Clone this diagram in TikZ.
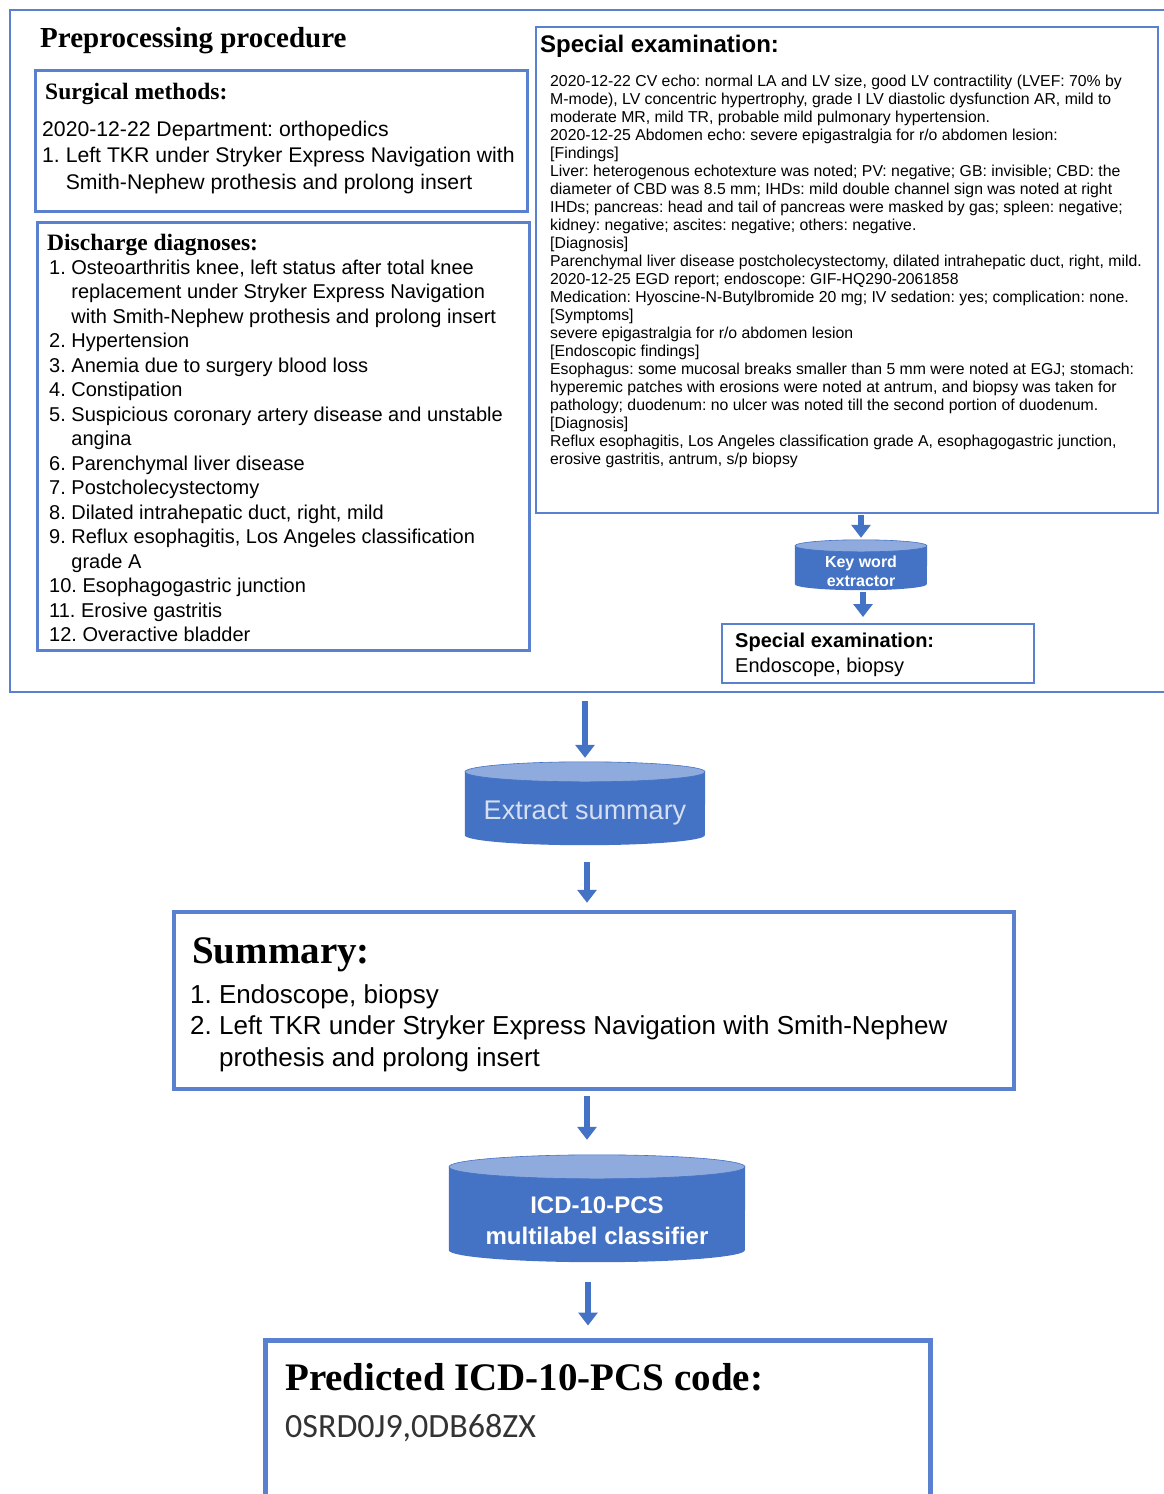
\documentclass[tikz,border=0pt]{standalone}
\usepackage{fontspec}
\setmainfont{Liberation Sans}
\newfontfamily\headfont{Liberation Serif}
\newfontfamily\codefont{Carlito}
\usetikzlibrary{arrows.meta,backgrounds}
\definecolor{frameblue}{HTML}{5A80D0}
\definecolor{cylblue}{HTML}{4472C4}
\definecolor{cyltop}{HTML}{8FAADC}
\definecolor{softtext}{HTML}{D6DFF2}

\tikzset{
    box/.style = {draw = frameblue, rectangle, inner sep = 0pt},
    cylface/.style = {rectangle, inner sep = 0pt, align = center},
    cylbody/.style = {fill = cylblue},
    cylend/.style = {fill = cyltop, draw = cylblue, line width = 0.6pt},
    flow/.style = {-{Triangle[length = 13pt, width = 19pt]}, line width = 6pt, draw = cylblue},
    txt/.style = {inner sep = 0pt, anchor = base west, align = left}
}

\begin{document}
\frenchspacing
\begin{tikzpicture}[x = 1pt, y = 1pt]
        \useasboundingbox (0, 0) rectangle (1164, -1494);

        % Frames
        \node [box, line width = 2.5pt, minimum width = 1160pt, minimum height = 682pt] (outer) at (590, -351) {};
        \node [box, line width = 3pt, minimum width = 492pt, minimum height = 141pt] (surg) at (281, -140.5) {};
        \node [box, line width = 3pt, minimum width = 492pt, minimum height = 428pt] (diag) at (283, -436) {};
        \node [box, line width = 2.5pt, minimum width = 622pt, minimum height = 486pt] (spec) at (847, -270) {};
        \node [box, line width = 2pt, minimum width = 312pt, minimum height = 59pt] (found) at (878, -653.5) {};
        \node [box, line width = 4.5pt, minimum width = 840pt, minimum height = 177pt] (summ) at (594, -1000.5) {};
        \node [box, line width = 5pt, minimum width = 665pt, minimum height = 200pt] (pred) at (597.5, -1440) {};

        % Cylinders (node = front face)
        \node [cylface, minimum width = 132pt, minimum height = 38pt, text = white, font = \bfseries\fontsize{16}{19}\selectfont] (keyword) at (861, -571) {Key word\\extractor};
        \node [cylface, minimum width = 240pt, minimum height = 63pt, text = softtext, font = \fontsize{27}{32}\selectfont] (extract) at (585, -813.5) {Extract summary};
        \node [cylface, minimum width = 296pt, minimum height = 83pt, text = white, font = \bfseries\fontsize{24}{31}\selectfont] (icd) at (597, -1220.5) {ICD-10-PCS\\multilabel classifier};

        \begin{scope}[on background layer]
            \fill [cylbody] ([yshift = 6pt]keyword.north west) -- ([yshift = 6pt]keyword.south west) arc [start angle = 180, end angle = 360, x radius = 66pt, y radius = 6pt] -- ([yshift = 6pt]keyword.north east) -- cycle;
            \filldraw [cylend] ([yshift = 6pt]keyword.north) ellipse [x radius = 66pt, y radius = 6pt];
            \fill [cylbody] ([yshift = 10pt]extract.north west) -- ([yshift = 10pt]extract.south west) arc [start angle = 180, end angle = 360, x radius = 120pt, y radius = 10pt] -- ([yshift = 10pt]extract.north east) -- cycle;
            \filldraw [cylend] ([yshift = 10pt]extract.north) ellipse [x radius = 120pt, y radius = 10pt];
            \fill [cylbody] ([yshift = 12pt]icd.north west) -- ([yshift = 12pt]icd.south west) arc [start angle = 180, end angle = 360, x radius = 148pt, y radius = 12pt] -- ([yshift = 12pt]icd.north east) -- cycle;
            \filldraw [cylend] ([yshift = 12pt]icd.north) ellipse [x radius = 148pt, y radius = 12pt];
        \end{scope}

        % Draw the links
        \draw [flow, shorten < = 1pt, shorten > = 14pt] (keyword.north |- spec.south) -- (keyword.north);
        \draw [flow, shorten < = 2pt, shorten > = 6pt] ([xshift = 2pt]keyword.south) -- ([xshift = 2pt]keyword.south |- found.north);
        \draw [flow, shorten < = 8pt, shorten > = 24pt] (extract.north |- outer.south) -- (extract.north);
        \draw [flow, shorten < = 17pt, shorten > = 7pt] ([xshift = 2pt]extract.south) -- ([xshift = 2pt]extract.south |- summ.north);
        \draw [flow, shorten < = 5pt, shorten > = 39pt] ([xshift = -7pt]summ.south) -- ([xshift = -7pt]summ.south |- icd.north);
        \draw [flow, shorten < = 20pt, shorten > = 12pt] ([xshift = -9pt]icd.south) -- ([xshift = -9pt]icd.south |- pred.north);

        % Texts (base = last line)
        \node [txt, font = \headfont\bfseries\fontsize{29}{34}\selectfont] (title) at (40, -47) {Preprocessing procedure};
        \node [txt, font = \headfont\bfseries\fontsize{23.5}{28}\selectfont] (surghead) at (45, -99) {Surgical methods:};
        \node [txt, font = \fontsize{21.2}{26.5}\selectfont] (surgtext) at (42, -189) {2020-12-22 Department: orthopedics\\1. Left TKR under Stryker Express Navigation with\\\phantom{1. }Smith-Nephew prothesis and prolong insert};
        \node [txt, font = \headfont\bfseries\fontsize{23.5}{28}\selectfont] (diaghead) at (47, -250) {Discharge diagnoses:};
        \node [txt, font = \fontsize{20}{24.5}\selectfont] (diagtext) at (49, -641.5) {1. Osteoarthritis knee, left status after total knee\\\phantom{1. }replacement under Stryker Express Navigation\\\phantom{1. }with Smith-Nephew prothesis and prolong insert\\2. Hypertension\\3. Anemia due to surgery blood loss\\4. Constipation\\5. Suspicious coronary artery disease and unstable\\\phantom{5. }angina\\6. Parenchymal liver disease\\7. Postcholecystectomy\\8. Dilated intrahepatic duct, right, mild\\9. Reflux esophagitis, Los Angeles classification\\\phantom{9. }grade A\\10. Esophagogastric junction\\11. Erosive gastritis\\12. Overactive bladder};
        \node [txt, font = \bfseries\fontsize{24}{28}\selectfont] (spechead) at (540, -52) {Special examination:};
        \node [txt, font = \fontsize{15.8}{18}\selectfont] (spectext) at (550, -464) {2020-12-22 CV echo: normal LA and LV size, good LV contractility (LVEF: 70\% by\\M-mode), LV concentric hypertrophy, grade I LV diastolic dysfunction AR, mild to\\moderate MR, mild TR, probable mild pulmonary hypertension.\\2020-12-25 Abdomen echo: severe epigastralgia for r/o abdomen lesion:\\{[Findings]}\\Liver: heterogenous echotexture was noted; PV: negative; GB: invisible; CBD: the\\diameter of CBD was 8.5 mm; IHDs: mild double channel sign was noted at right\\IHDs; pancreas: head and tail of pancreas were masked by gas; spleen: negative;\\kidney: negative; ascites: negative; others: negative.\\{[Diagnosis]}\\Parenchymal liver disease postcholecystectomy, dilated intrahepatic duct, right, mild.\\2020-12-25 EGD report; endoscope: GIF-HQ290-2061858\\Medication: Hyoscine-N-Butylbromide 20 mg; IV sedation: yes; complication: none.\\{[Symptoms]}\\severe epigastralgia for r/o abdomen lesion\\{[Endoscopic findings]}\\Esophagus: some mucosal breaks smaller than 5 mm were noted at EGJ; stomach:\\hyperemic patches with erosions were noted at antrum, and biopsy was taken for\\pathology; duodenum: no ulcer was noted till the second portion of duodenum.\\{[Diagnosis]}\\Reflux esophagitis, Los Angeles classification grade A, esophagogastric junction,\\erosive gastritis, antrum, s/p biopsy};
        \node [txt, font = \bfseries\fontsize{20}{25}\selectfont] (foundhead) at (735, -647) {Special examination:};
        \node [txt, font = \fontsize{20}{25}\selectfont] (foundtext) at (735, -672) {Endoscope, biopsy};
        \node [txt, font = \headfont\bfseries\fontsize{39}{45}\selectfont] (summhead) at (192, -963) {Summary:};
        \node [txt, font = \fontsize{26}{31.5}\selectfont] (summtext) at (190, -1066) {1. Endoscope, biopsy\\2. Left TKR under Stryker Express Navigation with Smith-Nephew\\\phantom{2. }prothesis and prolong insert};
        \node [txt, font = \headfont\bfseries\fontsize{39}{45}\selectfont] (predhead) at (285, -1390) {Predicted ICD-10-PCS code:};
        \node [txt, font = \codefont\fontsize{34}{40}\selectfont, text = black!80] (predcode) at (285, -1437) {0SRD0J9,0DB68ZX};

    \end{tikzpicture}
\end{document}
